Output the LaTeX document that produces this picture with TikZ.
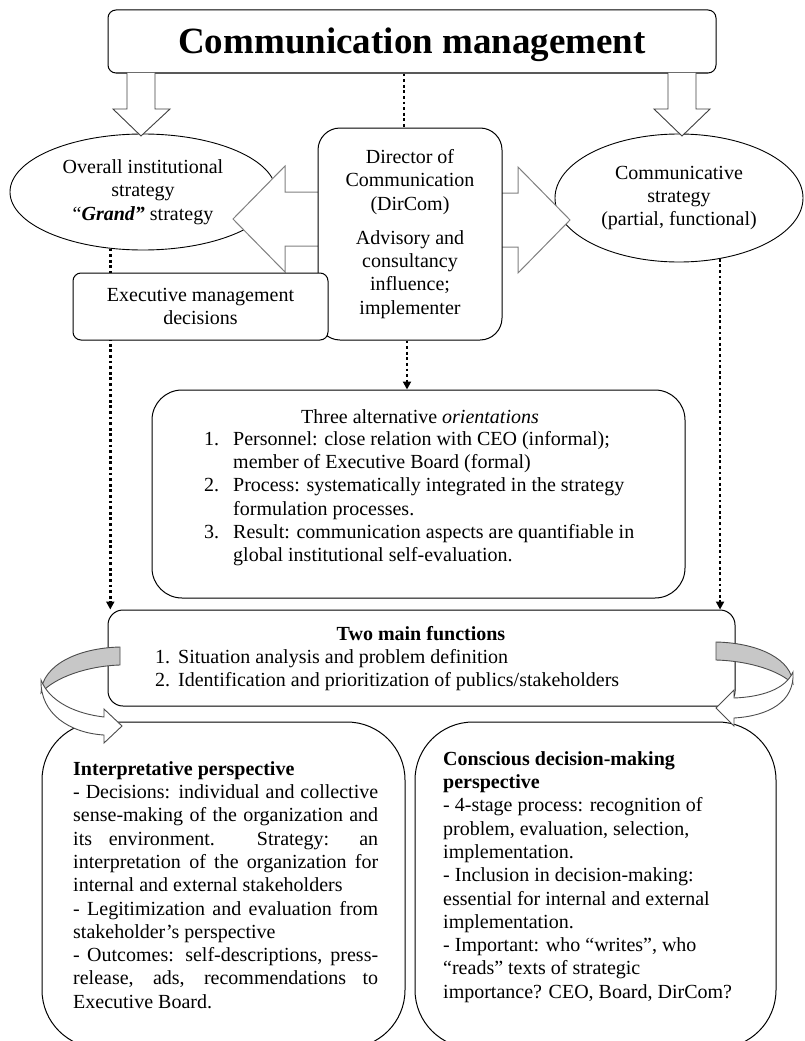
\documentclass[tikz,border=0pt]{standalone}
\usepackage{fontspec}
\setmainfont{Liberation Serif}
\usetikzlibrary{shapes.geometric,arrows.meta}
% a justified line of fixed width
\newcommand\justline[1]{\makebox[305pt][s]{#1}}

\begin{document}
\begin{tikzpicture}[x=1pt,y=-1pt,
  every node/.style={font=\fontsize{20}{23.3}\selectfont, inner sep=0pt},
  box/.style={draw=black, line width=1pt, fill=white, rounded corners=#1},
  box/.default=8pt,
  oval/.style={draw=black, ellipse, line width=0.9pt, fill=white, align=center},
  downarrow/.style={draw=black!75, fill=white, line width=0.9pt, line join=miter},
  sidearrow/.style={draw=black!50, fill=white, line width=1pt, line join=miter},
  dotline/.style={line width=2.8pt, dash pattern=on 2.8pt off 2.8pt},
  dotarrow/.style={dotline, -{Triangle[length=8pt,width=8pt]}},
  listtext/.style={align=left, anchor=north west},
  curvback/.style={draw=black!70, fill=black!22, line width=0.9pt},
  curvfront/.style={draw=black!70, fill=white, line width=0.9pt, line join=miter}
]
\useasboundingbox (0,0) rectangle (805,1041);
\clip (0,0) rectangle (805,1041);

% title box
\node[box=8pt, minimum width=608pt, minimum height=63pt] (top) at (412,41.5) {};
\node[anchor=base, font=\fontsize{37}{40}\selectfont\bfseries] (title) at (412,53) {Communication management};

% the two strategies
\node[oval, minimum width=266pt, minimum height=116pt] (ellL) at (143,192)
  {Overall institutional\\strategy\\“\textbf{\textit{Grand”}} strategy};
\node[oval, minimum width=248pt, minimum height=128pt] (ellR) at (679,198)
  {Communicative\\strategy\\(partial, functional)};

% wide arrows from the title box
\draw[downarrow] (127,73) -- (127,109) -- (113,109) -- (141,136) -- (170,109) -- (155,109) -- (155,73);
\draw[downarrow] (668,73) -- (668,109) -- (654,109) -- (682,136) -- (710,109) -- (696,109) -- (696,73);

% three orientations
\node[box=30pt, minimum width=533pt, minimum height=208pt] (orient) at (418.5,494) {};
\node[anchor=base] (orientT) at (420,423) {Three alternative \textit{orientations}};
\node[listtext] (orientL) at (204,428.7) {\strut\makebox[29pt][l]{1.}Personnel: close relation with CEO (informal);\\
\hspace*{29pt}member of Executive Board (formal)\\
\makebox[29pt][l]{2.}Process: systematically integrated in the strategy\\
\hspace*{29pt}formulation processes.\\
\makebox[29pt][l]{3.}Result: communication aspects are quantifiable in\\
\hspace*{29pt}global institutional self-evaluation.};

% two main functions
\node[box=15pt, minimum width=627pt, minimum height=96pt] (main) at (421.5,658) {};
\node[anchor=base, font=\fontsize{20}{23.3}\selectfont\bfseries] (mainT) at (421,640) {Two main functions};
\node[listtext] (mainL) at (155,646.7) {\strut\makebox[23pt][l]{1.}Situation analysis and problem definition\\
\makebox[23pt][l]{2.}Identification and prioritization of publics/stakeholders};

% side arrows of the director
\draw[sidearrow] (318,192) -- (285,192) -- (285,166) -- (233,219) -- (285,272) -- (285,246) -- (318,246);
\draw[sidearrow] (502,193) -- (518,193) -- (518,167) -- (570,220) -- (518,273) -- (518,247) -- (502,247);

% director of communication
\node[box=22pt, minimum width=184pt, minimum height=212pt, align=center] (dirc) at (410,234)
  {Director of\\Communication\\(DirCom)\\[10.7pt]Advisory and\\consultancy\\influence;\\implementer};

% dotted links
\draw[dotline] ([xshift=-6pt]dirc.north |- top.south) -- ([xshift=-6pt]dirc.north);
\draw[dotarrow] ([xshift=-3pt]dirc.south) -- ([xshift=-3pt]dirc.south |- orient.north);
\draw[dotarrow] (ellL.240) -- (ellL.240 |- main.north);
\draw[dotarrow] (ellR.304) -- (ellR.304 |- main.north);

% executive decisions
\node[box=8pt, minimum width=255pt, minimum height=67pt, align=center] (exec) at (200.5,306.5)
  {Executive management\\decisions};

% two perspectives
\node[box=58pt, minimum width=363pt, minimum height=326pt] (interp) at (223.5,885) {};
\node[listtext] (interpT) at (73,758.7) {\strut\textbf{Interpretative perspective}\\
\justline{- Decisions: individual and collective}\\
\justline{sense-making of the organization and}\\
\justline{its environment. Strategy: an}\\
\justline{interpretation of the organization for}\\
internal and external stakeholders\\
\justline{- Legitimization and evaluation from}\\
stakeholder’s perspective\\
\justline{- Outcomes: self-descriptions, press-}\\
\justline{release, ads, recommendations to}\\
Executive Board.};

\node[box=58pt, minimum width=361pt, minimum height=326pt] (consc) at (595.5,885) {};
\node[listtext] (conscT) at (443,748.7) {\strut\textbf{Conscious decision-making}\\
\textbf{perspective}\\
- 4-stage process: recognition of\\
problem, evaluation, selection,\\
implementation.\\
- Inclusion in decision-making:\\
essential for internal and external\\
implementation.\\
- Important: who “writes”, who\\
“reads” texts of strategic\\
importance? CEO, Board, DirCom?};

% curved arrows from the functions to the perspectives
\filldraw[curvback] (120,647) .. controls (78,648) and (42,665) .. (41,693)
  .. controls (55,677) and (88,666) .. (120,665) -- cycle;
\filldraw[curvfront] (41,680) .. controls (40,714) and (70,733) .. (104,735)
  -- (104,743) -- (122,726) -- (104,709) -- (104,717)
  .. controls (78,714) and (50,703) .. (41,680) -- cycle;

\filldraw[curvback] (716,642) .. controls (760,643) and (792,660) .. (793,684)
  .. controls (780,671) and (750,661) .. (716,660) -- cycle;
\filldraw[curvfront] (793,672) .. controls (795,702) and (768,716) .. (734,718)
  -- (734,726) -- (716,708) -- (734,690) -- (734,698)
  .. controls (760,697) and (785,690) .. (793,672) -- cycle;
\end{tikzpicture}
\end{document}
